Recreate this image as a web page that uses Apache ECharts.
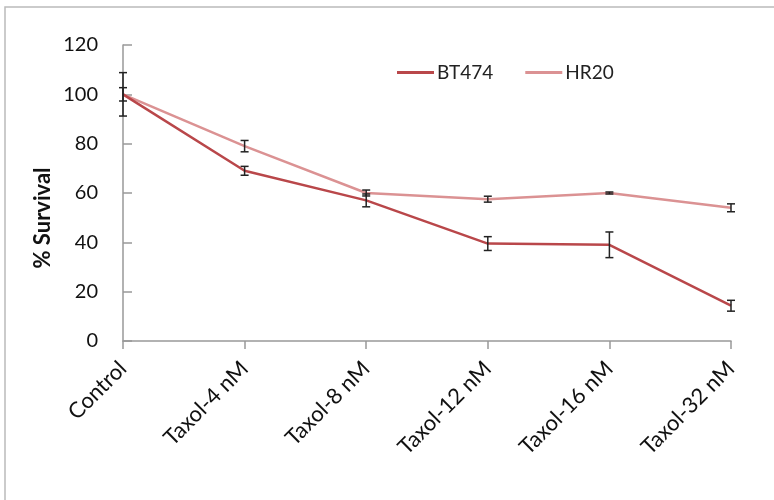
<!DOCTYPE html>
<html>
<head>
<meta charset="utf-8">
<script src="https://cdn.jsdelivr.net/npm/echarts@6/dist/echarts.min.js"></script>
<style>
  html, body { margin: 0; padding: 0; background: #fff; }
  #main { width: 774px; height: 500px; }
</style>
</head>
<body>
<div id="main"></div>
<script>
// values
var categories = ['Control', 'Taxol-4 nM', 'Taxol-8 nM', 'Taxol-12 nM', 'Taxol-16 nM', 'Taxol-32 nM'];
var bt474 = [100, 69, 57, 39.5, 39, 14.3];
var bt474Err = [8.8, 1.8, 2.6, 2.8, 5.2, 2.2];
var hr20 = [100, 79, 60, 57.5, 60, 54];
var hr20Err = [2.7, 2.3, 1.2, 1.2, 0.4, 1.6];
var yTicks = [0, 20, 40, 60, 80, 100, 120];

function errData(vals, errs) {
  var out = [];
  for (var i = 0; i < vals.length; i++) {
    out.push([i, vals[i] - errs[i], vals[i] + errs[i]]);
  }
  return out;
}

function renderErr(params, api) {
  var lo = api.coord([api.value(0), api.value(1)]);
  var hi = api.coord([api.value(0), api.value(2)]);
  var cap = 4;
  var st = { stroke: '#222', lineWidth: 1.5 };
  return {
    type: 'group',
    children: [
      { type: 'line', shape: { x1: lo[0], y1: lo[1], x2: hi[0], y2: hi[1] }, style: st },
      { type: 'line', shape: { x1: lo[0] - cap, y1: lo[1], x2: lo[0] + cap, y2: lo[1] }, style: st },
      { type: 'line', shape: { x1: hi[0] - cap, y1: hi[1], x2: hi[0] + cap, y2: hi[1] }, style: st }
    ]
  };
}

var lineIcon = 'path://M0,0 L40,0 L40,3 L0,3 Z';

var chart = echarts.init(document.getElementById('main'));
var option = {
  animation: false,
  textStyle: { fontFamily: 'Lato' },
  graphic: [{
    type: 'rect',
    shape: { x: 5, y: 7, width: 800, height: 600 },
    style: { fill: 'none', stroke: '#bbbbbb', lineWidth: 1.5 },
    silent: true
  }, {
    type: 'text',
    x: 43,
    y: 218,
    rotation: Math.PI / 2,
    style: {
      text: '% Survival',
      fontSize: 22,
      fontWeight: 'bold',
      fontFamily: 'Lato',
      fill: '#111',
      textAlign: 'center',
      textVerticalAlign: 'middle'
    },
    silent: true
  }],
  legend: {
    left: 397,
    top: 63,
    padding: 0,
    itemWidth: 37,
    itemHeight: 3,
    itemGap: 32,
    textStyle: { fontSize: 19, color: '#222', fontFamily: 'Lato', padding: [0, 0, 0, -2] },
    data: [
      { name: 'BT474', icon: lineIcon },
      { name: 'HR20', icon: lineIcon }
    ]
  },
  grid: { left: 123, right: 43, top: 45, bottom: 159 },
  xAxis: {
    type: 'category',
    data: categories,
    boundaryGap: false,
    axisLine: { lineStyle: { color: '#999', width: 1.5 } },
    axisTick: { show: true, length: 8, lineStyle: { color: '#999', width: 1.5 } },
    axisLabel: { rotate: 45, fontSize: 22, color: '#111', margin: 24, fontFamily: 'Lato' }
  },
  yAxis: {
    type: 'value',
    min: 0,
    max: 120,
    interval: 20,
    splitLine: { show: false },
    axisLine: { show: true, lineStyle: { color: '#999', width: 1.5 } },
    axisTick: { show: true, inside: true, length: 9, lineStyle: { color: '#999', width: 1.5 } },
    axisLabel: { fontSize: 20, color: '#111', margin: 25, fontFamily: 'Lato',
      formatter: function (v) { return yTicks.indexOf(v) >= 0 ? String(v) : ''; } }
  },
  series: [
    {
      name: 'BT474',
      type: 'line',
      data: bt474,
      symbol: 'none',
      lineStyle: { color: '#B9474A', width: 2.5 },
      itemStyle: { color: '#B9474A' },
      z: 3
    },
    {
      name: 'HR20',
      type: 'line',
      data: hr20,
      symbol: 'none',
      lineStyle: { color: '#DB9293', width: 2.5 },
      itemStyle: { color: '#DB9293' },
      z: 2
    },
    {
      name: 'BT474 err',
      type: 'custom',
      renderItem: renderErr,
      data: errData(bt474, bt474Err),
      encode: { x: 0, y: [1, 2] },
      z: 4
    },
    {
      name: 'HR20 err',
      type: 'custom',
      renderItem: renderErr,
      data: errData(hr20, hr20Err),
      encode: { x: 0, y: [1, 2] },
      z: 4
    }
  ]
};
chart.setOption(option);
</script>
</body>
</html>
